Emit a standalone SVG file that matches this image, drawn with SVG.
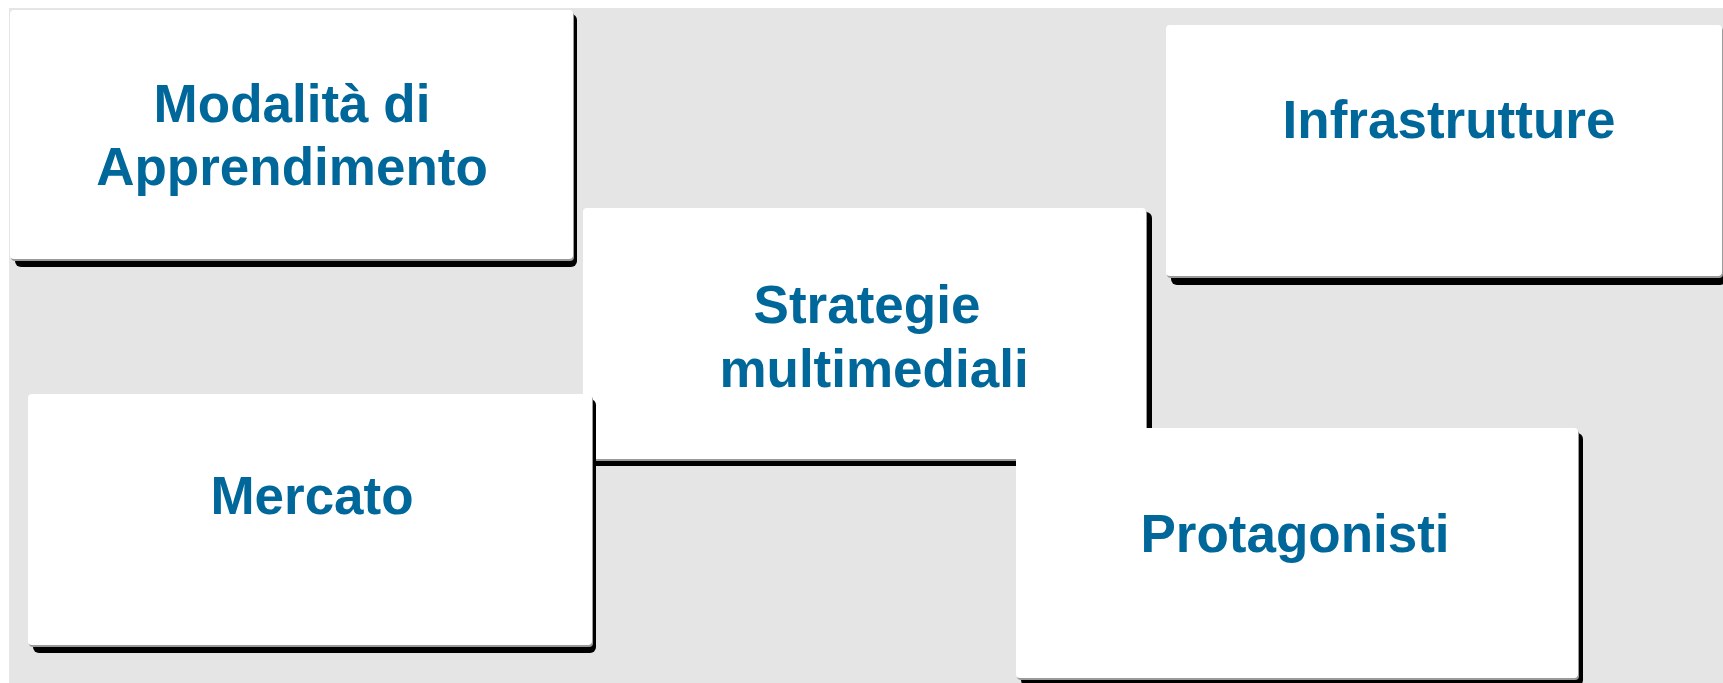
<svg xmlns="http://www.w3.org/2000/svg" width="1723" height="683" viewBox="0 0 1723 683">
<style>
.bg{fill:#e5e5e5}
.sh{fill:#000}
.sg{fill:#9a9a9a}
.box{fill:#fff}
.t{font-family:"Liberation Sans",Arial,sans-serif;font-weight:bold;font-size:53px;fill:#00679a;text-anchor:middle}
</style>
<rect x="0" y="0" width="1723" height="683" fill="#fff"/>
<rect class="bg" x="9" y="8" width="1714" height="675"/>
<g id="connectors"></g>
<g id="modalita">
<rect class="sh" x="15" y="14" width="562" height="253" rx="6"/>
<rect class="sg" x="11" y="12" width="563" height="249" rx="4"/>
<rect class="box" x="10" y="10" width="563" height="249" rx="4"/>
<text class="t" x="292" y="122">Modalità di</text>
<text class="t" x="292" y="185">Apprendimento</text>
</g>
<g id="infrastrutture">
<rect class="sh" x="1171" y="30" width="555" height="255" rx="6"/>
<rect class="sg" x="1167" y="27" width="556" height="251" rx="4"/>
<rect class="box" x="1166" y="25" width="556" height="251" rx="4"/>
<text class="t" x="1449" y="138">Infrastrutture</text>
</g>
<g id="strategie">
<rect class="sh" x="588" y="212" width="564" height="254" rx="6"/>
<rect class="sg" x="584" y="210" width="563" height="251" rx="4"/>
<rect class="box" x="583" y="208" width="563" height="251" rx="4"/>
<text class="t" x="867" y="323">Strategie</text>
<text class="t" x="874" y="387">multimediali</text>
</g>
<g id="mercato">
<rect class="sh" x="33" y="399" width="563" height="254" rx="6"/>
<rect class="sg" x="29" y="396" width="564" height="251" rx="4"/>
<rect class="box" x="28" y="394" width="564" height="251" rx="4"/>
<text class="t" x="312" y="514">Mercato</text>
</g>
<g id="protagonisti">
<rect class="sh" x="1021" y="433" width="562" height="253" rx="6"/>
<rect class="sg" x="1017" y="430" width="562" height="250" rx="4"/>
<rect class="box" x="1016" y="428" width="562" height="250" rx="4"/>
<text class="t" x="1295" y="552">Protagonisti</text>
</g>
</svg>
